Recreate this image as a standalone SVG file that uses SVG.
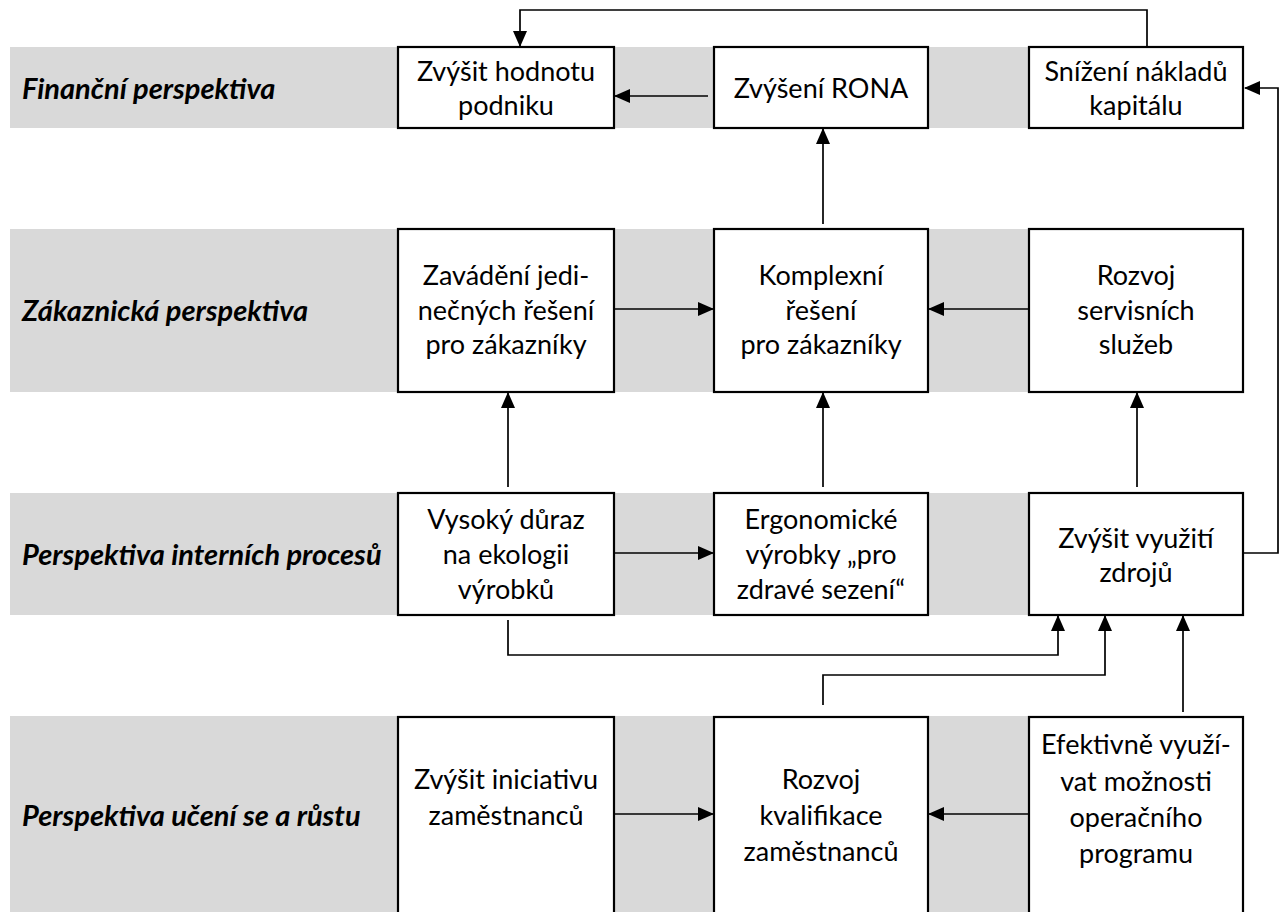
<svg xmlns="http://www.w3.org/2000/svg" width="1283" height="912" viewBox="0 0 1283 912">
<defs>
<marker id="arr" markerUnits="userSpaceOnUse" markerWidth="16" markerHeight="14" viewBox="0 0 16 14" refX="15" refY="7" orient="auto">
<path d="M0,0 L16,7 L0,14 Z" fill="#000"/>
</marker>
<style>
.band{fill:#d9d9d9}
.box{fill:#fff;stroke:#000;stroke-width:2.2}
.t{font-family:Lato,"Open Sans","Liberation Sans",sans-serif;font-size:27px;fill:#000;text-anchor:middle;dominant-baseline:central}
.lbl{font-family:Lato,"Open Sans","Liberation Sans",sans-serif;font-size:29px;font-weight:bold;font-style:italic;fill:#000;dominant-baseline:central}
.c{fill:none;stroke:#000;stroke-width:1.7}
.a{marker-end:url(#arr)}
</style>
</defs>
<g id="bands">
<rect class="band" x="10" y="47" width="1233" height="81"/>
<rect class="band" x="10" y="229" width="1233" height="163"/>
<rect class="band" x="10" y="493" width="1233" height="122"/>
<rect class="band" x="10" y="716" width="1233" height="196"/>
</g>
<g id="labels">
<text class="lbl" x="22" y="87">Finanční perspektiva</text>
<text class="lbl" x="22" y="309">Zákaznická perspektiva</text>
<text class="lbl" x="22" y="553">Perspektiva interních procesů</text>
<text class="lbl" x="22" y="814">Perspektiva učení se a růstu</text>
</g>
<g id="connectors">
<path class="c a" d="M1147 47 V10 H520 V46"/>
<path class="c a" d="M708 96 H615"/>
<path class="c a" d="M823 224 V129"/>
<path class="c a" d="M1243 553 H1278 V88 H1245"/>
<path class="c a" d="M614 309 H713"/>
<path class="c a" d="M1029 309 H929"/>
<path class="c a" d="M508 487 V393"/>
<path class="c a" d="M823 487 V393"/>
<path class="c a" d="M1137 487 V393"/>
<path class="c a" d="M614 553 H713"/>
<path class="c a" d="M508 620 V655 H1058 V616"/>
<path class="c a" d="M823 705 V675 H1105 V616"/>
<path class="c a" d="M1183 712 V616"/>
<path class="c a" d="M614 814 H713"/>
<path class="c a" d="M1029 814 H929"/>
</g>
<g id="n1">
<rect class="box" x="398" y="47" width="216" height="81"/>
<text class="t" x="506" y="70">Zvýšit hodnotu</text>
<text class="t" x="506" y="104">podniku</text>
</g>
<g id="n2">
<rect class="box" x="714" y="47" width="214" height="81"/>
<text class="t" x="821" y="87">Zvýšení RONA</text>
</g>
<g id="n3">
<rect class="box" x="1029" y="47" width="214" height="81"/>
<text class="t" x="1136" y="70">Snížení nákladů</text>
<text class="t" x="1136" y="104">kapitálu</text>
</g>
<g id="n4">
<rect class="box" x="398" y="229" width="216" height="163"/>
<text class="t" x="506" y="274">Zavádění jedi-</text>
<text class="t" x="506" y="309">nečných řešení</text>
<text class="t" x="506" y="343">pro zákazníky</text>
</g>
<g id="n5">
<rect class="box" x="714" y="229" width="214" height="163"/>
<text class="t" x="821" y="274">Komplexní</text>
<text class="t" x="821" y="309">řešení</text>
<text class="t" x="821" y="343">pro zákazníky</text>
</g>
<g id="n6">
<rect class="box" x="1029" y="229" width="214" height="163"/>
<text class="t" x="1136" y="274">Rozvoj</text>
<text class="t" x="1136" y="309">servisních</text>
<text class="t" x="1136" y="343">služeb</text>
</g>
<g id="n7">
<rect class="box" x="398" y="493" width="216" height="122"/>
<text class="t" x="506" y="518">Vysoký důraz</text>
<text class="t" x="506" y="553">na ekologii</text>
<text class="t" x="506" y="588">výrobků</text>
</g>
<g id="n8">
<rect class="box" x="714" y="493" width="214" height="122"/>
<text class="t" x="821" y="518">Ergonomické</text>
<text class="t" x="821" y="553">výrobky „pro</text>
<text class="t" x="821" y="588">zdravé sezení“</text>
</g>
<g id="n9">
<rect class="box" x="1029" y="493" width="214" height="122"/>
<text class="t" x="1136" y="537">Zvýšit využití</text>
<text class="t" x="1136" y="571">zdrojů</text>
</g>
<g id="n10">
<rect class="box" x="398" y="717" width="216" height="200"/>
<text class="t" x="506" y="778">Zvýšit iniciativu</text>
<text class="t" x="506" y="814">zaměstnanců</text>
</g>
<g id="n11">
<rect class="box" x="714" y="717" width="214" height="200"/>
<text class="t" x="821" y="778">Rozvoj</text>
<text class="t" x="821" y="814">kvalifikace</text>
<text class="t" x="821" y="850">zaměstnanců</text>
</g>
<g id="n12">
<rect class="box" x="1029" y="717" width="214" height="200"/>
<text class="t" x="1136" y="743">Efektivně využí-</text>
<text class="t" x="1136" y="780">vat možnosti</text>
<text class="t" x="1136" y="816">operačního</text>
<text class="t" x="1136" y="852">programu</text>
</g>
</svg>
